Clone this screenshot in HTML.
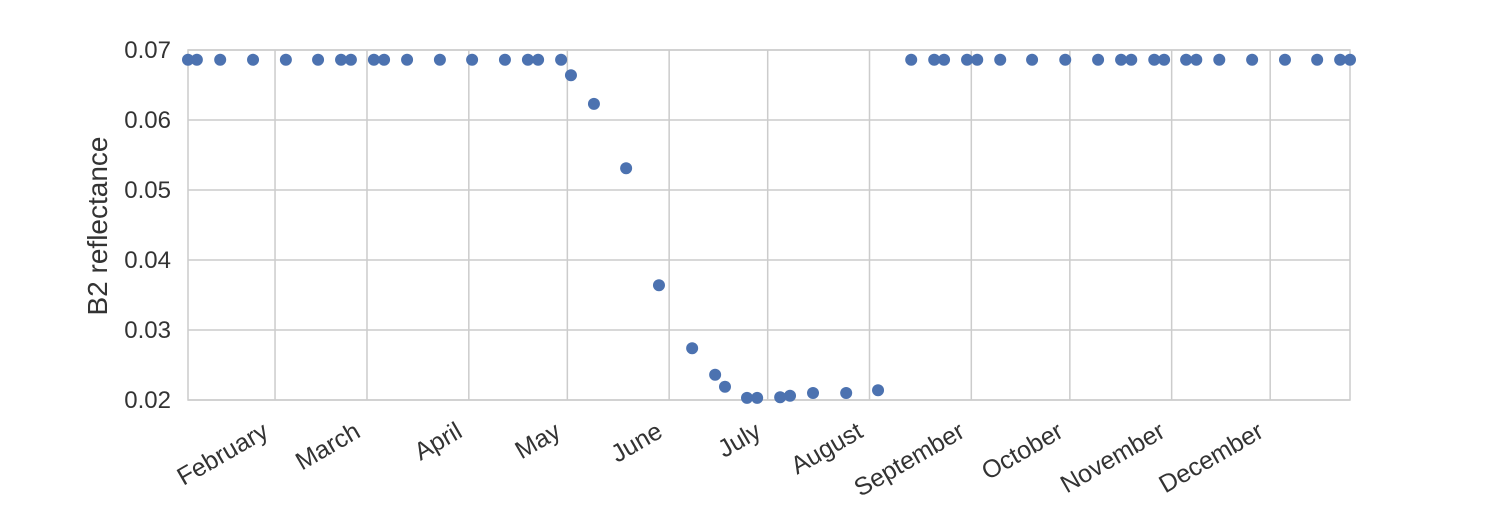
<!DOCTYPE html>
<html><head><meta charset="utf-8"><style>
body{margin:0;background:#fff;font-family:"Liberation Sans",sans-serif}
</style></head><body>
<svg id="chart" width="1500" height="500" xmlns="http://www.w3.org/2000/svg"></svg>
<script>
const dayOfYear=[4.5,7.2,14.3,24.3,34.3,44.1,51.1,54.1,61.1,64.2,71.2,81.2,91,101,108,111.1,118.1,121.1,128.1,137.9,147.9,158,165,168,174.7,177.8,184.8,187.8,194.8,204.9,214.6,224.7,231.7,234.7,241.7,244.8,251.8,261.5,271.6,281.6,288.6,291.7,298.7,301.7,308.4,311.5,318.5,328.5,338.5,348.3,355.3,358.3];
const reflectance=[0.0686,0.0686,0.0686,0.0686,0.0686,0.0686,0.0686,0.0686,0.0686,0.0686,0.0686,0.0686,0.0686,0.0686,0.0686,0.0686,0.0686,0.0664,0.0623,0.0531,0.0364,0.0274,0.0236,0.0219,0.0203,0.0203,0.0204,0.0206,0.0210,0.0210,0.0214,0.0686,0.0686,0.0686,0.0686,0.0686,0.0686,0.0686,0.0686,0.0686,0.0686,0.0686,0.0686,0.0686,0.0686,0.0686,0.0686,0.0686,0.0686,0.0686,0.0686,0.0686];
const monthLabels=["February","March","April","May","June","July","August","September","October","November","December"];
const monthStarts=[31,59,90,120,151,181,212,243,273,304,334];
const yTicks=[0.02,0.03,0.04,0.05,0.06,0.07];
const NS="http://www.w3.org/2000/svg",svg=document.getElementById('chart');
const L=188,R=1350,T=50,B=400,xmin=4.5,xmax=358.3,ymin=0.02,ymax=0.07;
const X=d=>L+(d-xmin)/(xmax-xmin)*(R-L);
const Y=v=>B-(v-ymin)/(ymax-ymin)*(B-T);
function mk(t,a){const e=document.createElementNS(NS,t);for(const k in a)e.setAttribute(k,a[k]);svg.appendChild(e);return e;}
const bg=mk('rect',{x:L,y:T,width:R-L,height:B-T,fill:'#fff',stroke:'#ccc','stroke-width':1.5});


yTicks.forEach(v=>{
 const g=mk('line',{x1:L,x2:R,y1:Y(v),y2:Y(v),stroke:'#ccc','stroke-width':1.5});
 
 
 const t=mk('text',{x:171,y:Y(v)+8,'text-anchor':'end','font-size':24,fill:'#333'});
 t.textContent=v.toFixed(2);
 
 
});
monthStarts.forEach((d,i)=>{
 const x=X(d);
 const g=mk('line',{x1:x,x2:x,y1:T,y2:B,stroke:'#ccc','stroke-width':1.5});
 
 
 const tx=x-5,ty=436;
 const t=mk('text',{x:tx,y:ty,'text-anchor':'end','font-size':25,fill:'#333',transform:`rotate(-30 ${tx} ${ty})`});
 t.textContent=monthLabels[i];
 
 
});
dayOfYear.forEach((d,i)=>{
 const c=mk('circle',{cx:X(d),cy:Y(reflectance[i]),r:6,fill:'#4C72B0'});
 
 
});
const yl=mk('text',{x:107,y:226,'text-anchor':'middle','font-size':28,fill:'#333',transform:'rotate(-90 107 226)'});
yl.textContent='B2 reflectance';


</script>
</body></html>
